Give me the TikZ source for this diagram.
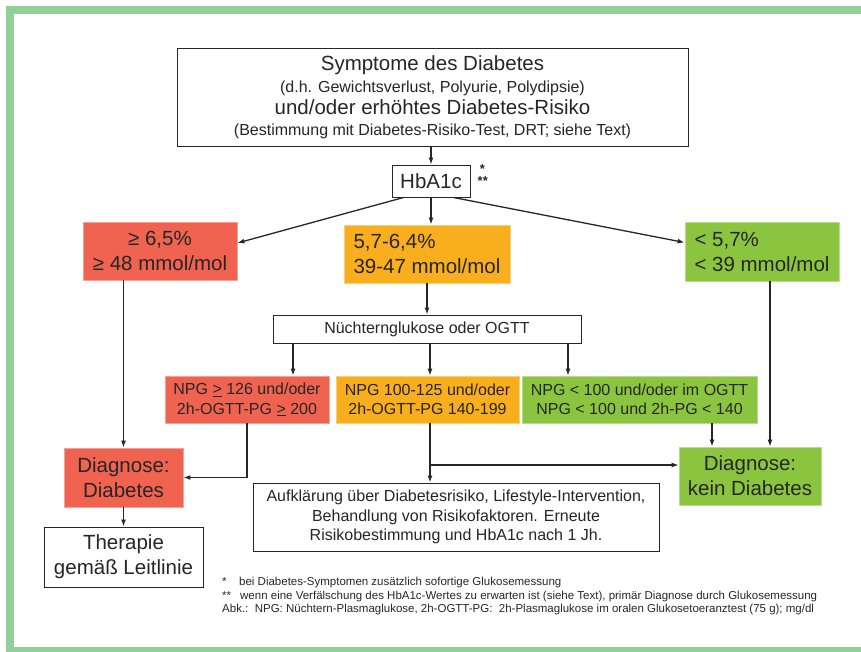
\documentclass[tikz,border=0pt]{standalone}
\usepackage{fontspec}
\setmainfont{Liberation Sans}
\usepackage{tikz}
\usetikzlibrary{arrows.meta,positioning,calc}
\usepackage{xcolor}
\definecolor{hbred}{RGB}{239,99,80}
\definecolor{hborange}{RGB}{249,174,30}
\definecolor{hbgreen}{RGB}{139,197,63}
\definecolor{framegreen}{RGB}{146,208,152}
\definecolor{inkgray}{RGB}{38,38,38}
\newcommand{\szbig}{\fontsize{20.5}{25}\selectfont}
\newcommand{\szmid}{\fontsize{16}{19.5}\selectfont}
\newcommand{\sznote}{\fontsize{11.5}{13.6}\selectfont}

\begin{document}
\begin{tikzpicture}[x=1pt, y=-1pt, >={Latex[length=7pt,width=5pt]},
  line/.style={draw=inkgray, line width=1.3pt},
  plainbox/.style={draw=inkgray, line width=1pt, fill=white, inner sep=0pt, align=center, text=inkgray},
  colbox/.style={fill=#1, draw=#1!60!white, line width=0.8pt, inner sep=0pt, align=center, text=inkgray}]
\useasboundingbox (0,0) rectangle (861,651);
% frame
\draw[framegreen, line width=8pt] (880,10) -- (10,10) -- (10,651) -- (880,651);

% top box and HbA1c
\node[plainbox, minimum width=511pt, minimum height=98pt, font=\fontsize{20.5}{21.6}\selectfont] (symp) at (432.5,97.5)
  {Symptome des Diabetes\\{\fontsize{16}{21.6}\selectfont (d.h. Gewichtsverlust, Polyurie, Polydipsie)}\\
   und/oder erhöhtes Diabetes-Risiko\\{\fontsize{16}{21.6}\selectfont (Bestimmung mit Diabetes-Risiko-Test, DRT; siehe Text)}};
\node[plainbox, minimum width=78pt, minimum height=32pt, font=\szbig] (hba) at (431,181) {HbA1c};
\node[right=7pt of hba.north east, anchor=north west, align=left, inner sep=0pt, text=inkgray,
      font=\bfseries\fontsize{13}{12}\selectfont] (stars) {\,*\\**};

% HbA1c classes
\node[colbox=hbred, minimum width=154pt, minimum height=58pt, font=\szbig] (red1) at (160,251)
  {≥ 6,5\%\\≥ 48 mmol/mol};
\node[colbox=hborange, minimum width=166pt, minimum height=58pt, font=\szbig, align=left] (ora1) at (427,254)
  {5,7-6,4\%\\39-47 mmol/mol};
\node[colbox=hbgreen, minimum width=154pt, minimum height=59pt, font=\szbig, align=left] (gre1) at (762,251.5)
  {< 5,7\%\\< 39 mmol/mol};

% glucose test
\node[plainbox, minimum width=308pt, minimum height=28pt, font=\szmid] (ogtt) at (427,329) {Nüchternglukose oder OGTT};
\node[colbox=hbred, minimum width=164pt, minimum height=47pt, font=\szmid] (red2) at (247,399.5)
  {NPG \underline{>} 126 und/oder\\2h-OGTT-PG \underline{>} 200};
\node[colbox=hborange, minimum width=183pt, minimum height=47pt, font=\szmid] (ora2) at (427.5,399.5)
  {NPG 100-125 und/oder\\2h-OGTT-PG 140-199};
\node[colbox=hbgreen, minimum width=235pt, minimum height=47pt, font=\szmid] (gre2) at (639.5,399.5)
  {NPG < 100 und/oder im OGTT\\NPG < 100 und 2h-PG < 140};

% outcomes
\node[colbox=hbred, minimum width=119pt, minimum height=59pt, font=\szbig] (diab) at (123.5,477.5) {Diagnose:\\Diabetes};
\node[colbox=hbgreen, minimum width=142pt, minimum height=58pt, font=\szbig] (nodiab) at (750,476) {Diagnose:\\kein Diabetes};
\node[plainbox, minimum width=159pt, minimum height=60pt, font=\szbig] (ther) at (123.5,557) {Therapie\\gemäß Leitlinie};
\node[plainbox, minimum width=406pt, minimum height=68pt, font=\szmid] (info) at (456,517)
  {Aufklärung über Diabetesrisiko, Lifestyle-Intervention,\\Behandlung von Risikofaktoren. Erneute\\Risikobestimmung und HbA1c nach 1 Jh.};

% notes
\node[anchor=north west, align=left, inner sep=0pt, text=inkgray, font=\sznote] (notes) at (222,577)
  {\makebox[17pt][l]{*}bei Diabetes-Symptomen zusätzlich sofortige Glukosemessung\\
   \makebox[18pt][l]{**}wenn eine Verfälschung des HbA1c-Wertes zu erwarten ist (siehe Text), primär Diagnose durch Glukosemessung\\
   Abk.:\ \ NPG: Nüchtern-Plasmaglukose, 2h-OGTT-PG:\ \ 2h-Plasmaglukose im oralen Glukosetoeranztest (75 g); mg/dl};

% connectors
\coordinate (redin) at ([yshift=8pt]red1.east);
\coordinate (grein) at ([yshift=9pt]gre1.west);
\coordinate (nodin) at ([xshift=20pt]nodiab.north);
\coordinate (nodleft) at ([yshift=11pt]nodiab.west);
\coordinate (gre2in) at ([xshift=-38pt]nodiab.north);
\draw[line, ->] (hba.north |- symp.south) -- (hba.north);
\draw[line, ->] (hba.south) -- (hba.south |- ora1.north);
\draw[line, ->] ([xshift=12pt]hba.south west) -- (redin);
\draw[line, ->] ([xshift=-17pt]hba.south east) -- (grein);
\draw[line, ->] (diab.north |- red1.south) -- (diab.north);
\draw[line, ->] (nodin |- gre1.south) -- (nodin);
\draw[line, ->] (ora1.south) -- (ora1.south |- ogtt.north);
\draw[line, ->] ([xshift=46pt]red2.north |- ogtt.south) -- ([xshift=46pt]red2.north);
\draw[line, ->] ([xshift=2.5pt]ora2.north |- ogtt.south) -- ([xshift=2.5pt]ora2.north);
\draw[line, ->] ([xshift=-71.5pt]gre2.north |- ogtt.south) -- ([xshift=-71.5pt]gre2.north);
\draw[line, ->] (red2.south) |- (diab.east);
\draw[line, ->] (diab.south) -- (ther.north);
\draw[line, ->] ([xshift=2.5pt]ora2.south) -- ([xshift=2.5pt]ora2.south |- info.north);
\draw[line, ->] ([xshift=2.5pt]ora2.south |- nodleft) -- (nodleft);
\draw[line, ->] (gre2in |- gre2.south) -- (gre2in);
\end{tikzpicture}
\end{document}
